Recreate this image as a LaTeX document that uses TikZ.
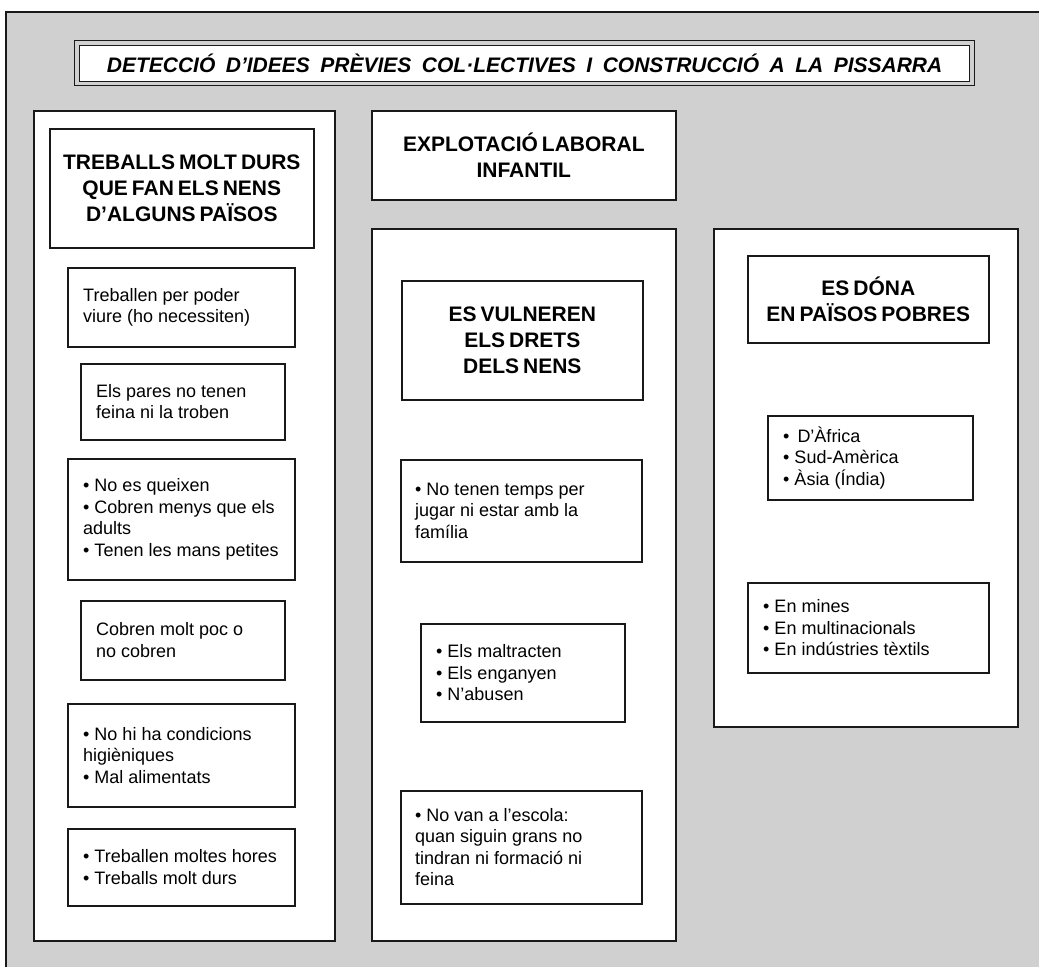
\documentclass[tikz,border=0pt]{standalone}
\usepackage{fontspec}
\setmainfont{Liberation Sans}
\definecolor{bggray}{RGB}{208,208,208}
\definecolor{edge}{RGB}{25,25,25}
\begin{document}
\begin{tikzpicture}[x=1pt,y=-1pt,
  frame/.style={draw=edge, line width=1.6pt, fill=white, inner sep=0pt, anchor=north west},
  hdr/.style={frame, align=center, font=\fontsize{21}{25.8}\selectfont\bfseries,
              execute at begin node={\spaceskip=4pt\relax}},
  body/.style={anchor=west, align=left, inner sep=0pt, font=\fontsize{18}{21.5}\selectfont},
]
\useasboundingbox (0,0) rectangle (1039,967);
% background board
\fill[bggray] (6,12) rectangle (1039,967);
\draw[edge, line width=2pt] (6,967) -- (6,12) -- (1039,12);

% title
\node[draw=edge, line width=1.2pt, fill=bggray, inner sep=0pt, anchor=north west,
      minimum width=900, minimum height=45] (titleouter) at (74,40) {};
\node[frame, line width=1.2pt, minimum width=890, minimum height=36,
      font=\fontsize{21}{25}\selectfont\bfseries\itshape,
      execute at begin node={\spaceskip=10.5pt\relax}] (title) at (79,45)
  {DETECCIÓ D’IDEES PRÈVIES COL·LECTIVES I CONSTRUCCIÓ A LA PISSARRA};

% columns
\node[frame, minimum width=301, minimum height=830] (colL) at (33,110) {};
\node[frame, minimum width=304, minimum height=712] (colM) at (371,228) {};
\node[frame, minimum width=304, minimum height=498] (colR) at (713,228) {};

% headers
\node[hdr, minimum width=304, minimum height=89] (hM) at (371,110) {EXPLOTACIÓ LABORAL\\INFANTIL};
\node[hdr, minimum width=264, minimum height=119] (hL) at (49,128) {TREBALLS MOLT DURS\\QUE FAN ELS NENS\\D’ALGUNS PAÏSOS};
\node[hdr, minimum width=241, minimum height=119] (hV) at (401,280) {ES VULNEREN\\ELS DRETS\\DELS NENS};
\node[hdr, minimum width=241, minimum height=87] (hR) at (747,255) {ES DÓNA\\EN PAÏSOS POBRES};

% left column boxes
\node[frame, minimum width=227, minimum height=79] (L1) at (67,267) {};
\node[body] (L1t) at ([xshift=16]L1.west) {Treballen per poder\\viure (ho necessiten)};
\node[frame, minimum width=204, minimum height=76] (L2) at (80,363) {};
\node[body] (L2t) at ([xshift=16]L2.west) {Els pares no tenen\\feina ni la troben};
\node[frame, minimum width=227, minimum height=121] (L3) at (67,458) {};
\node[body] (L3t) at ([xshift=16]L3.west) {• No es queixen\\• Cobren menys que els\\adults\\• Tenen les mans petites};
\node[frame, minimum width=204, minimum height=79] (L4) at (80,600) {};
\node[body] (L4t) at ([xshift=16]L4.west) {Cobren molt poc o\\no cobren};
\node[frame, minimum width=227, minimum height=103] (L5) at (67,703) {};
\node[body] (L5t) at ([xshift=16]L5.west) {• No hi ha condicions\\higièniques\\• Mal alimentats};
\node[frame, minimum width=227, minimum height=77] (L6) at (67,828) {};
\node[body] (L6t) at ([xshift=16]L6.west) {• Treballen moltes hores\\• Treballs molt durs};

% middle column boxes
\node[frame, minimum width=241, minimum height=102] (M1) at (400,459) {};
\node[body] (M1t) at ([xshift=15]M1.west) {• No tenen temps per\\jugar ni estar amb la\\família};
\node[frame, minimum width=204, minimum height=98] (M2) at (420,623) {};
\node[body] (M2t) at ([xshift=16]M2.west) {• Els maltracten\\• Els enganyen\\• N’abusen};
\node[frame, minimum width=241, minimum height=113] (M3) at (400,790) {};
\node[body] (M3t) at ([xshift=15]M3.west) {• No van a l’escola:\\quan siguin grans no\\tindran ni formació ni\\feina};

% right column boxes
\node[frame, minimum width=205, minimum height=84] (R1) at (767,415) {};
\node[body] (R1t) at ([xshift=16]R1.west) {•\hspace{3pt} D’Àfrica\\• Sud-Amèrica\\• Àsia (Índia)};
\node[frame, minimum width=241, minimum height=90] (R2) at (747,582) {};
\node[body] (R2t) at ([xshift=16]R2.west) {• En mines\\• En multinacionals\\• En indústries tèxtils};
\end{tikzpicture}
\end{document}
